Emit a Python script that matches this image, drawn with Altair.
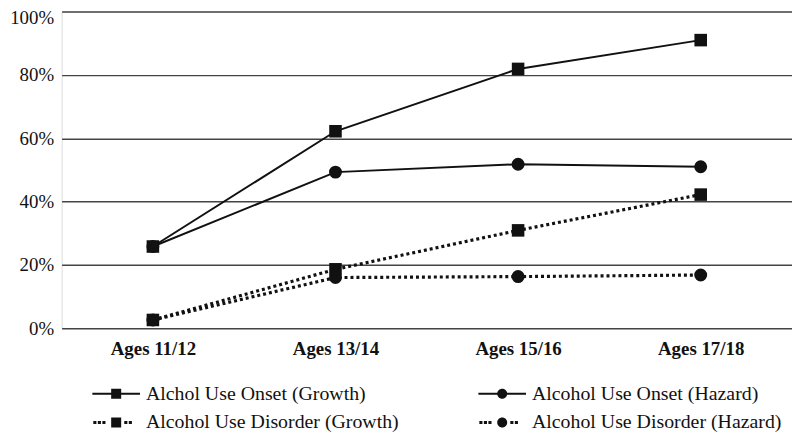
import altair as alt
import pandas as pd

ages = ["Ages 11/12", "Ages 13/14", "Ages 15/16", "Ages 17/18"]
series = [
    "Alchol Use Onset (Growth)",
    "Alcohol Use Onset (Hazard)",
    "Alcohol Use Disorder (Growth)",
    "Alcohol Use Disorder (Hazard)",
]
markers = ["square", "circle", "square", "circle"]
styles = ["solid", "solid", "dotted", "dotted"]

onset_growth = [25.8, 62.2, 81.9, 91.0]
onset_hazard = [25.8, 49.3, 51.8, 51.0]
disorder_growth = [2.6, 18.6, 30.9, 42.2]
disorder_hazard = [2.6, 16.0, 16.3, 16.8]
y_ticks = [0, 0.2, 0.4, 0.6, 0.8, 1.0]

all_values = [onset_growth, onset_hazard, disorder_growth, disorder_hazard]
rows = []
for s, m, st, vals in zip(series, markers, styles, all_values):
    for a, v in zip(ages, vals):
        rows.append({"age": a, "series": s, "marker": m, "style": st, "value": v / 100})
df = pd.DataFrame(rows)

# legend glyphs, drawn with fill only (coordinates span -2..2 of the unit symbol)
solid_line = "M-2,-0.084H2V0.084H-2Z"
dots = ("M-1.92,-0.13h0.26v0.26h-0.26Z"
        "M-1.54,-0.13h0.26v0.26h-0.26Z"
        "M-1.16,-0.13h0.26v0.26h-0.26Z"
        "M0.68,-0.13h0.26v0.26h-0.26Z"
        "M1.06,-0.13h0.26v0.26h-0.26Z")
sq_mark = "M-0.42,-0.42H0.42V0.42H-0.42Z"
ci_mark = "M-0.42,0A0.42,0.42,0,1,1,0.42,0A0.42,0.42,0,1,1,-0.42,0Z"
glyph = {
    series[0]: solid_line + sq_mark,
    series[1]: solid_line + ci_mark,
    series[2]: dots + sq_mark,
    series[3]: dots + ci_mark,
}
# legend is filled column by column: order so that rows read as in the reference
legend_order = [series[0], series[2], series[1], series[3]]
legend_paths = [glyph[s] for s in legend_order]

FONT = "Liberation Serif"

x_enc = alt.X("age:O", sort=ages, scale=alt.Scale(type="point", padding=0.5),
              axis=alt.Axis(title=None, labelAngle=0, labelFontWeight="bold",
                            labelFontSize=19, labelFont=FONT, labelColor="#111",
                            domain=False, ticks=False, grid=False, labelPadding=12))
y_enc = alt.Y("value:Q", scale=alt.Scale(domain=[0, 1], nice=False),
              axis=alt.Axis(title=None, format="%", values=y_ticks, labelFontSize=19,
                            labelFont=FONT, labelColor="#111", domain=False, ticks=False,
                            grid=True, gridColor="#444", gridWidth=1.5, labelPadding=8,
                            labelOffset={"condition": {"test": "datum.value >= 1", "value": 6},
                                         "value": 0}))

base = alt.Chart(df)

solid = base.transform_filter(alt.datum.style == "solid").mark_line(
    color="#111", strokeWidth=2).encode(x=x_enc, y=y_enc, detail="series:N")
dotted = base.transform_filter(alt.datum.style == "dotted").mark_line(
    color="#111", strokeWidth=3.2, strokeDash=[3, 3]).encode(x=x_enc, y=y_enc, detail="series:N")
squares = base.transform_filter(alt.datum.marker == "square").mark_point(
    shape="square", filled=True, color="#111", size=160, opacity=1).encode(x=x_enc, y=y_enc)
circles = base.transform_filter(alt.datum.marker == "circle").mark_point(
    shape="circle", filled=True, color="#111", size=170, opacity=1).encode(x=x_enc, y=y_enc)

leg = alt.Legend(title=None, orient="none", legendX=43, legendY=373, columns=2,
                 labelFont=FONT, labelFontSize=20, labelColor="#111", labelLimit=400,
                 symbolSize=576, labelOffset=18, columnPadding=80, rowPadding=7,
                 symbolStrokeWidth=0, symbolFillColor="#111", symbolOpacity=1)

legend_layer = base.transform_filter("false").mark_point(
    filled=True, color="#111", strokeWidth=0).encode(
    x=x_enc, y=y_enc,
    shape=alt.Shape("series:N", sort=legend_order,
                    scale=alt.Scale(domain=legend_order, range=legend_paths), legend=leg),
)

chart = alt.layer(solid, dotted, squares, circles, legend_layer).properties(
    width=736, height=319,
    autosize=alt.AutoSizeParams(type="none"),
    padding={"left": 54, "top": 2, "right": 0, "bottom": 109},
).configure_view(stroke=None).configure(background="white", font=FONT).configure_axis(
    labelFont=FONT).configure_legend(labelFont=FONT)

chart.save("out.html", embed_options={"renderer": "svg", "actions": False})
